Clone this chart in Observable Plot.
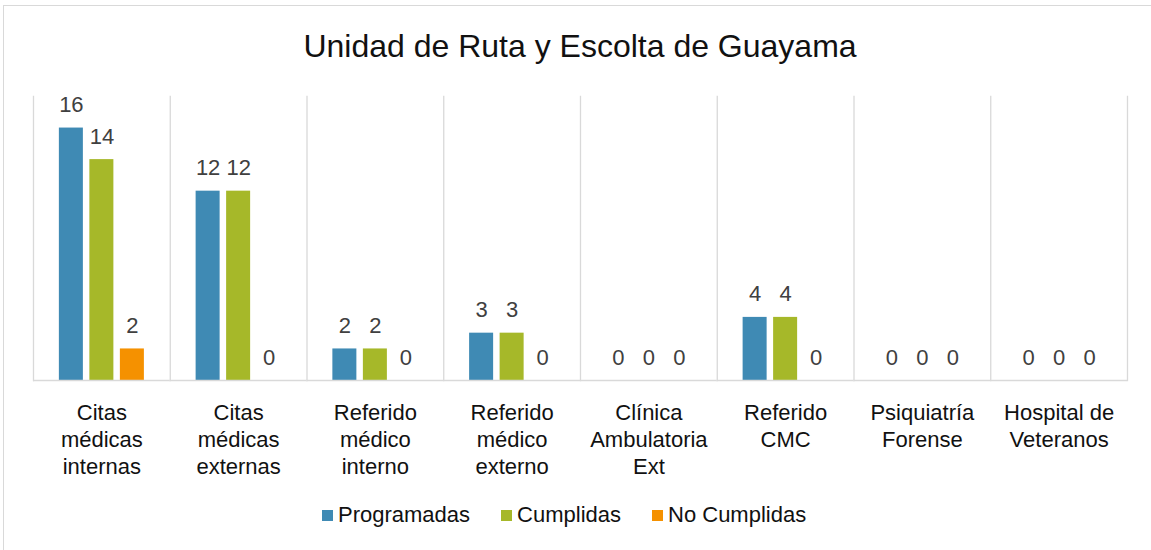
<!DOCTYPE html>
<html>
<head>
<meta charset="utf-8">
<script src="https://cdn.jsdelivr.net/npm/d3@7"></script>
<script src="https://cdn.jsdelivr.net/npm/@observablehq/plot@0.6"></script>
<style>
  html, body { margin: 0; padding: 0; background: #fff; }
  #wrap { position: relative; width: 1151px; height: 550px; overflow: hidden; font-family: "Liberation Sans", Arial, sans-serif; }
  #border { position: absolute; left: 3px; top: 5px; width: 1300px; height: 700px; border-left: 1px solid #d9d9d9; border-top: 1px solid #d9d9d9; }
  #title { position: absolute; left: 33px; width: 1094px; top: 30px; font-size: 32px; line-height: 32px; text-align: center; color: #111; white-space: nowrap; }
  #chart { position: absolute; left: 0; top: 80px; }
  #legend { position: absolute; left: 322px; top: 504px; display: flex; align-items: center; font-size: 22px; line-height: 22px; color: #111; white-space: nowrap; }
  .sw { width: 11px; height: 11px; margin-right: 5px; }
  .item { display: flex; align-items: center; margin-right: 31px; }
</style>
</head>
<body>
<div id="wrap">
  <div id="border"></div>
  <div id="title"></div>
  <div id="chart"></div>
  <div id="legend"></div>
</div>
<script>
const title = "Unidad de Ruta y Escolta de Guayama";
const categories = [
  "Citas médicas internas",
  "Citas médicas externas",
  "Referido médico interno",
  "Referido médico externo",
  "Clínica Ambulatoria Ext",
  "Referido CMC",
  "Psiquiatría Forense",
  "Hospital de Veteranos"
];
const categoryLabels = [
  "Citas\nmédicas\ninternas",
  "Citas\nmédicas\nexternas",
  "Referido\nmédico\ninterno",
  "Referido\nmédico\nexterno",
  "Clínica\nAmbulatoria\nExt",
  "Referido\nCMC",
  "Psiquiatría\nForense",
  "Hospital de\nVeteranos"
];
const seriesNames = ["Programadas", "Cumplidas", "No Cumplidas"];
const seriesColors = ["#3f8ab4", "#a6b829", "#f59100"];
const programadas = [16, 12, 2, 3, 0, 4, 0, 0];
const cumplidas = [14, 12, 2, 3, 0, 4, 0, 0];
const noCumplidas = [2, 0, 0, 0, 0, 0, 0, 0];

const seriesValues = [programadas, cumplidas, noCumplidas];
const data = [];
categories.forEach((c, i) => {
  seriesNames.forEach((s, j) => data.push({cat: c, series: s, value: seriesValues[j][i]}));
});
const labelOf = new Map(categories.map((c, i) => [c, categoryLabels[i]]));

document.getElementById("title").textContent = title;

const chart = Plot.plot({
  width: 1151,
  height: 410,
  marginTop: 16,
  marginBottom: 110,
  marginLeft: 33,
  marginRight: 24,
  style: {fontFamily: "'Liberation Sans', Arial, sans-serif", background: "transparent"},
  fx: {domain: categories, padding: 0, round: false, axis: null},
  x: {domain: seriesNames, paddingInner: 0.213, paddingOuter: 0.848, round: false, axis: null},
  y: {domain: [0, 18], axis: null},
  color: {domain: seriesNames, range: seriesColors},
  marks: [
    Plot.frame({anchor: "left", stroke: "#d9d9d9", strokeWidth: 1.3}),
    Plot.frame({anchor: "right", stroke: "#d9d9d9", strokeWidth: 1.3, facet: "super"}),
    Plot.barY(data, {fx: "cat", x: "series", y: "value", fill: "series"}),
    Plot.ruleY([0], {stroke: "#d9d9d9", strokeWidth: 1.5}),
    Plot.text(data, {fx: "cat", x: "series", y: "value", text: d => String(d.value), lineAnchor: "bottom", dy: -16, fontSize: 22, fill: "#404040"}),
    Plot.axisFx({anchor: "bottom", label: null, tickSize: 0, tickPadding: 21, fontSize: 22, lineHeight: 1.21, fill: "#111", tickFormat: d => labelOf.get(d)})
  ]
});
document.getElementById("chart").appendChild(chart);

const legend = document.getElementById("legend");
seriesNames.forEach((s, i) => {
  const item = document.createElement("div");
  item.className = "item";
  const sw = document.createElement("div");
  sw.className = "sw";
  sw.style.background = seriesColors[i];
  const t = document.createElement("span");
  t.textContent = s;
  item.appendChild(sw);
  item.appendChild(t);
  legend.appendChild(item);
});
</script>
</body>
</html>
